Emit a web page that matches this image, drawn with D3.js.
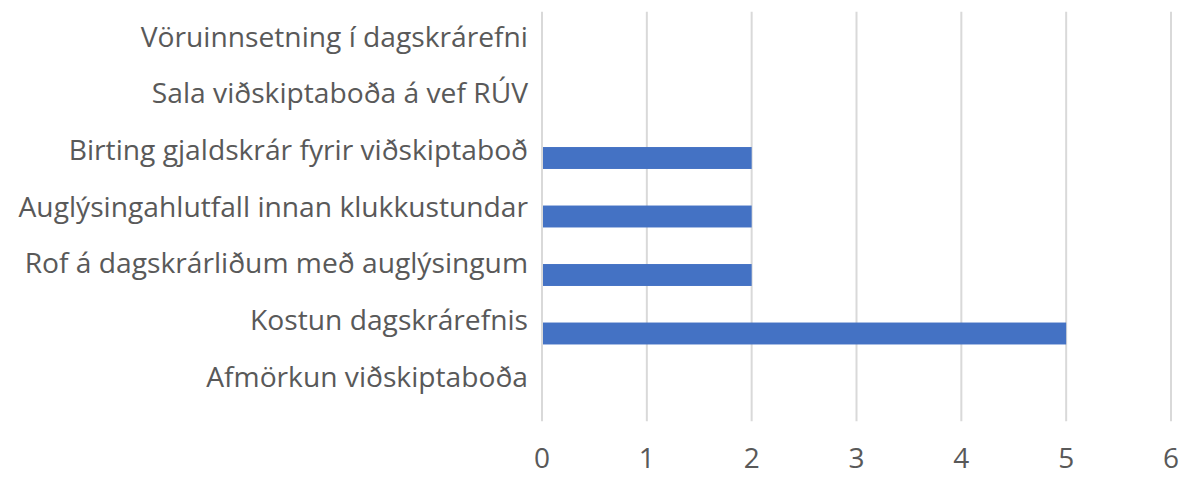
<!DOCTYPE html>
<html>
<head>
<meta charset="utf-8">
<script src="https://cdn.jsdelivr.net/npm/d3@7.9.0/dist/d3.min.js"></script>
<style>
  body { margin: 0; background: #fff; }
  svg text { font-family: "Open Sans", Lato, sans-serif; fill: #595959; }
</style>
</head>
<body>
<svg id="chart" width="1191" height="477"></svg>
<script>
// categories top to bottom, as in the picture
let categories = [
  'Vöruinnsetning í dagskrárefni',
  'Sala viðskiptaboða á vef RÚV',
  'Birting gjaldskrár fyrir viðskiptaboð',
  'Auglýsingahlutfall innan klukkustundar',
  'Rof á dagskrárliðum með auglýsingum',
  'Kostun dagskrárefnis',
  'Afmörkun viðskiptaboða'
];
let values = [0, 0, 2, 2, 2, 5, 0];
let xTicks = [0, 1, 2, 3, 4, 5, 6];

let margin = { top: 11.75, right: 20, bottom: 55.75, left: 542 };
let width = 1191, height = 477;

let svg = d3.select('#chart');

let x = d3.scaleLinear()
  .domain([0, 6])
  .range([margin.left, width - margin.right]);

let y = d3.scaleBand()
  .domain(categories)
  .range([margin.top, height - margin.bottom])
  .paddingInner(0.625)
  .paddingOuter(0.3125);

// the labels sit on a slightly tighter spacing than the bars
let yLabel = d3.scalePoint()
  .domain(categories)
  .range([46.7, 386.7]);

// gridlines
svg.append('g')
  .selectAll('line')
  .data(xTicks)
  .join('line')
  .attr('x1', (d) => x(d))
  .attr('x2', (d) => x(d))
  .attr('y1', margin.top)
  .attr('y2', height - margin.bottom)
  .attr('stroke', '#d9d9d9')
  .attr('stroke-width', 2);

// bars
svg.append('g')
  .selectAll('rect')
  .data(values)
  .join('rect')
  .attr('x', x(0) + 1)
  .attr('y', (d, i) => y(categories[i]))
  .attr('width', (d) => Math.max(0, x(d) - x(0) - 1))
  .attr('height', y.bandwidth())
  .attr('fill', '#4472c4');

// category labels
svg.append('g')
  .selectAll('text')
  .data(categories)
  .join('text')
  .attr('x', margin.left - 14)
  .attr('y', (d) => yLabel(d))
  .attr('text-anchor', 'end')
  .attr('font-size', 28.2)
  .text((d) => d);

// x tick labels
svg.append('g')
  .selectAll('text')
  .data(xTicks)
  .join('text')
  .attr('x', (d) => x(d))
  .attr('y', 468)
  .attr('text-anchor', 'middle')
  .attr('font-size', 28)
  .text((d) => d);
</script>
</body>
</html>
